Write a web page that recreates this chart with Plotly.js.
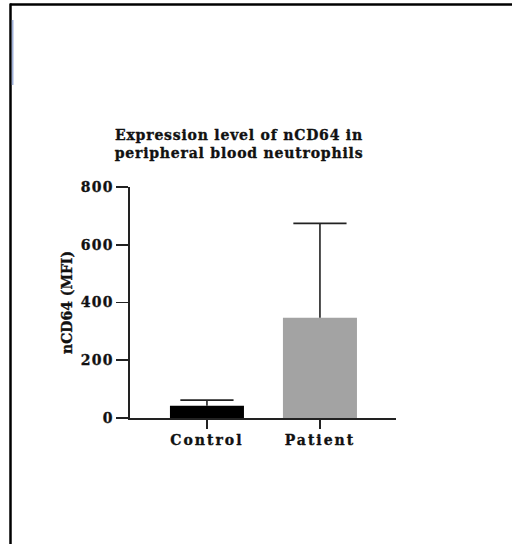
<!DOCTYPE html>
<html>
<head>
<meta charset="utf-8">
<script src="https://cdn.plot.ly/plotly-3.0.1.min.js"></script>
<style>
  html, body { margin: 0; padding: 0; background: #fff; }
  #chart { width: 512px; height: 544px; }
  .xtick text { letter-spacing: 2px; }
  .ytick text { letter-spacing: 1.2px; }
  .gtitle { letter-spacing: 0.8px; }
  .main-svg text { stroke: #111111; stroke-width: 0.35px; }
</style>
</head>
<body>
<div id="chart"></div>
<script>
const categories = ["Control", "Patient"];
const meanValues = [42, 347];
const sdValues = [20, 327];
const barColors = ["#000000", "#a3a3a3"];
const yTickValues = [0, 200, 400, 600, 800];
const yTickLabels = ["0", "200", "400", "600", "800"];

const fontFamily = "'DejaVu Serif', 'Liberation Serif', serif";

// pixel → paper helpers for decorative frame (plot area: x 130..396, y 187..418)
const L = 130, R = 396, T = 187, B = 418;
const px = p => (p - L) / (R - L);
const py = q => (B - q) / (B - T);

const barTrace = {
  type: "bar",
  x: categories,
  y: meanValues,
  marker: { color: barColors, line: { width: 0 } },
  error_y: {
    type: "data",
    symmetric: false,
    array: sdValues,
    arrayminus: sdValues.map(() => 0),
    color: "#222222",
    thickness: 1.6,
    width: 0
  },
  hoverinfo: "skip"
};

// caps at the top of each error bar
const capTrace = {
  type: "scatter",
  mode: "markers",
  x: categories,
  y: meanValues.map((m, i) => m + sdValues[i]),
  marker: {
    symbol: "line-ew",
    size: 38,
    color: "#222222",
    line: { color: "#222222", width: 1.6 }
  },
  hoverinfo: "skip"
};

const layout = {
  width: 512,
  height: 544,
  margin: { l: L, r: 512 - R, t: T, b: 544 - B },
  paper_bgcolor: "#ffffff",
  plot_bgcolor: "#ffffff",
  showlegend: false,
  bargap: 0.345,
  title: {
    text: "<b>Expression level of nCD64 in<br>peripheral blood neutrophils</b>",
    font: { family: fontFamily, size: 14, color: "#111111" },
    xref: "paper",
    x: px(239),
    xanchor: "center",
    yref: "container",
    y: 1 - 140 / 544,
    yanchor: "top"
  },
  xaxis: {
    type: "category",
    range: [-0.681, 1.673],
    showline: true,
    linecolor: "#222222",
    linewidth: 1.6,
    ticks: "outside",
    ticklen: 9,
    tickwidth: 1.6,
    tickcolor: "#222222",
    showgrid: false,
    zeroline: false,
    tickfont: { family: fontFamily, size: 14, color: "#111111", weight: "bold" },
    fixedrange: true
  },
  yaxis: {
    range: [0, 800],
    tickvals: yTickValues,
    ticktext: yTickLabels,
    showline: true,
    linecolor: "#222222",
    linewidth: 1.6,
    ticks: "outside",
    ticklen: 12,
    tickwidth: 1.6,
    tickcolor: "#222222",
    showgrid: false,
    zeroline: false,
    tickfont: { family: fontFamily, size: 14, color: "#111111", weight: "bold" },
    title: {
      text: "<b>nCD64 (MFI)</b>",
      font: { family: fontFamily, size: 14, color: "#111111" },
      standoff: 5
    },
    fixedrange: true
  },
  shapes: [
    { type: "line", xref: "paper", yref: "paper", x0: px(10), x1: px(512), y0: py(4.5), y1: py(4.5),
      line: { color: "#000000", width: 2.5 } },
    { type: "line", xref: "paper", yref: "paper", x0: px(10.5), x1: px(10.5), y0: py(3.5), y1: py(544),
      line: { color: "#000000", width: 2.5 } },
    { type: "rect", xref: "paper", yref: "paper", x0: px(11.8), x1: px(13.5), y0: py(85), y1: py(20),
      fillcolor: "#9fb0d8", line: { width: 0 } }
  ]
};

Plotly.newPlot("chart", [barTrace, capTrace], layout, { staticPlot: true, displayModeBar: false });
</script>
</body>
</html>
